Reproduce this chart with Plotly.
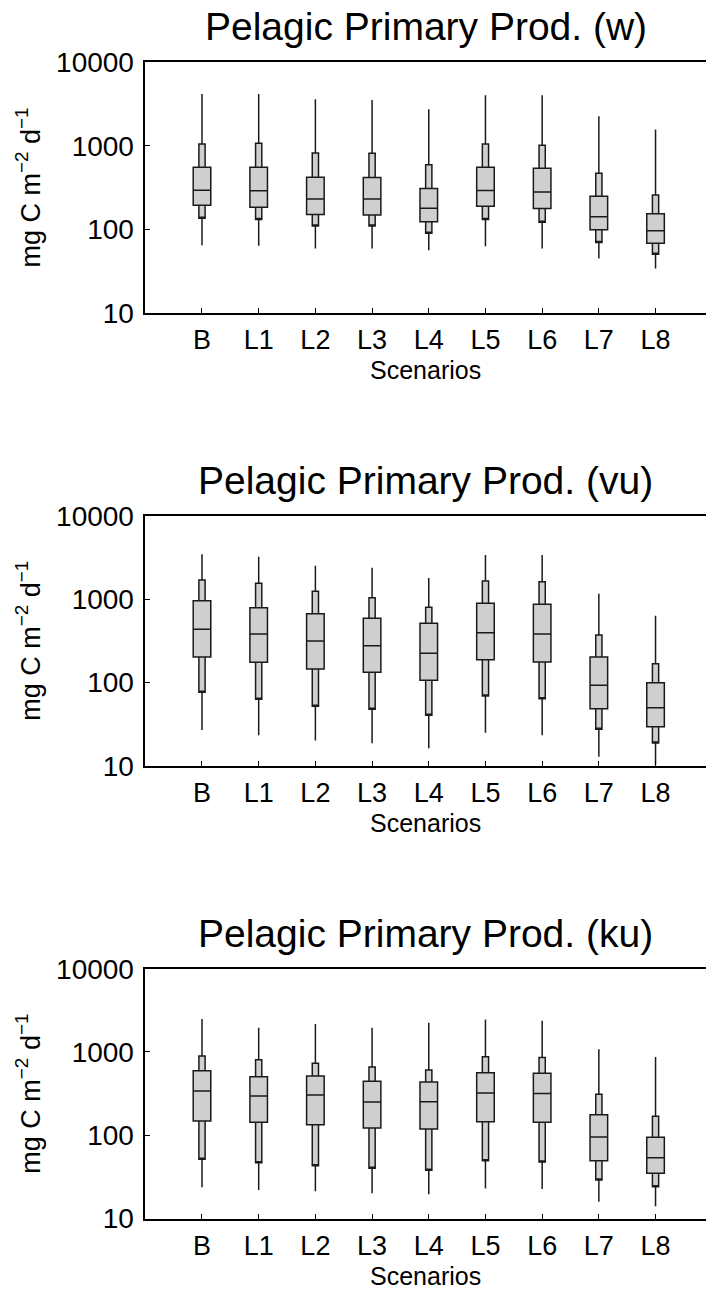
import plotly.graph_objects as go

# Scenario labels
scenarios = ["B", "L1", "L2", "L3", "L4", "L5", "L6", "L7", "L8"]
panel_titles = ["Pelagic Primary Prod. (w)", "Pelagic Primary Prod. (vu)", "Pelagic Primary Prod. (ku)"]

# Distribution summaries per scenario (mg C m-2 d-1): min, p10, p25, median, p75, p90, max
w_min = [64.5, 63.2, 58.9, 58.9, 56.1, 62.7, 58.9, 44.7, 33.9]
w_p10 = [135, 131, 109, 109, 89.8, 131, 121, 69.5, 50.3]
w_p25 = [194, 184, 150, 148, 123, 189, 177, 98.4, 68.1]
w_med = [294, 289, 231, 230, 179, 292, 279, 141, 95.7]
w_p75 = [551, 551, 421, 418, 308, 551, 536, 249, 153]
w_p90 = [1047, 1069, 817, 811, 592, 1047, 1011, 467, 258]
w_max = [4170, 4170, 3600, 3530, 2730, 4020, 4020, 2250, 1570]

vu_min = [26.8, 23.2, 20.0, 18.6, 16.2, 24.9, 23.2, 12.8, 10.3]
vu_p10 = [76, 62.6, 51.6, 47.5, 40.3, 68.6, 63.7, 27.3, 18.7]
vu_p25 = [201, 174, 145, 132, 106, 187, 176, 48.3, 29.4]
vu_med = [433, 380, 314, 275, 223, 394, 380, 92.2, 49.7]
vu_p75 = [955, 787, 667, 587, 512, 889, 865, 201, 99]
vu_p90 = [1692, 1545, 1238, 1038, 796, 1646, 1614, 370, 167]
vu_max = [3440, 3220, 2510, 2380, 1790, 3380, 3380, 1160, 631]

ku_min = [23.7, 22.0, 21.2, 20.1, 19.5, 23.0, 22.6, 15.9, 14.0]
ku_p10 = [51.4, 46.8, 43.0, 40.1, 37.9, 49.4, 47.7, 29.0, 24.1]
ku_p25 = [148, 143, 134, 122, 119, 145, 143, 49.4, 34.9]
ku_med = [339, 296, 304, 250, 253, 321, 318, 95.1, 53.7]
ku_p75 = [595, 504, 514, 444, 435, 563, 554, 176, 94.4]
ku_p90 = [893, 806, 730, 659, 607, 876, 861, 310, 169]
ku_max = [2480, 1950, 2160, 1950, 2240, 2460, 2370, 1075, 868]

panels = [
    (w_min, w_p10, w_p25, w_med, w_p75, w_p90, w_max),
    (vu_min, vu_p10, vu_p25, vu_med, vu_p75, vu_p90, vu_max),
    (ku_min, ku_p10, ku_p25, ku_med, ku_p75, ku_p90, ku_max),
]

W, H = 706, 1289
FONT = "Liberation Sans, Arial, sans-serif"
FILL = "#cfcfcf"
EDGE = "#1a1a1a"

# pixel extents of each axes box (top, bottom) and horizontal extent
ax_px = [(62.3, 312.7), (515.7, 765.7), (968.7, 1218.5)]
x_left = 145.3

fig = go.Figure()

for i, (mn, p10, p25, med, p75, p90, mx) in enumerate(panels):
    xa = "x" if i == 0 else f"x{i+1}"
    ya = "y" if i == 0 else f"y{i+1}"
    # outer band: 10-90 % range with whiskers to the extremes
    fig.add_trace(go.Box(
        x=scenarios, q1=p10, median=p10, q3=p90, lowerfence=mn, upperfence=mx,
        width=0.11, whiskerwidth=0, fillcolor=FILL,
        line=dict(color=EDGE, width=1.5), boxpoints=False,
        xaxis=xa, yaxis=ya, showlegend=False, hoverinfo="skip",
    ))
    # inner box: interquartile range with median
    fig.add_trace(go.Box(
        x=scenarios, q1=p25, median=med, q3=p75, lowerfence=p25, upperfence=p75,
        width=0.31, whiskerwidth=0, fillcolor=FILL,
        line=dict(color=EDGE, width=1.5), boxpoints=False,
        xaxis=xa, yaxis=ya, showlegend=False, hoverinfo="skip",
    ))

layout = dict(
    width=W, height=H,
    margin=dict(l=0, r=0, t=0, b=0, autoexpand=False),
    paper_bgcolor="white", plot_bgcolor="white",
    font=dict(family=FONT, color="black", size=27),
    boxmode="overlay",
    showlegend=False,
)

annotations = []
x_mid = (x_left + W) / 2 / W
for i, (top, bot) in enumerate(ax_px):
    sfx = "" if i == 0 else str(i + 1)
    dom_y = [1 - bot / H, 1 - top / H]
    layout["xaxis" + sfx] = dict(
        domain=[x_left / W, 1.0], anchor="y" + sfx, automargin=False,
        type="category", categoryorder="array", categoryarray=scenarios,
        range=[-1, 8.89],
        showline=True, linecolor="black", linewidth=1.5, mirror=True,
        ticks="inside", ticklen=5, tickwidth=1, tickcolor="black",
        showgrid=False, zeroline=False,
        tickfont=dict(size=27), ticklabelstandoff=2,
    )
    layout["yaxis" + sfx] = dict(
        domain=dom_y, anchor="x" + sfx, automargin=False,
        type="log", range=[1, 4],
        tickvals=[10, 100, 1000, 10000], ticktext=["10", "100", "1000", "10000"],
        showline=True, linecolor="black", linewidth=1.5,
        ticks="inside", ticklen=5, tickwidth=1, tickcolor="black",
        showgrid=False, zeroline=False,
        tickfont=dict(size=28), ticklabelstandoff=4,
        title=dict(text="mg C m<sup>\u22122</sup> d<sup>\u22121</sup>", font=dict(size=27), standoff=8),
    )
    # panel title above the axes box
    annotations.append(dict(
        text=panel_titles[i], xref="paper", yref="paper",
        x=x_mid, y=1 - (top - 12) / H,
        xanchor="center", yanchor="bottom", showarrow=False,
        font=dict(size=39, family=FONT, color="black"),
    ))
    # x-axis label below the tick labels
    annotations.append(dict(
        text="Scenarios", xref="paper", yref="paper",
        x=x_mid, y=1 - (bot + 57) / H,
        xanchor="center", yanchor="middle", showarrow=False,
        font=dict(size=25, family=FONT, color="black"),
    ))

layout["annotations"] = annotations
fig.update_layout(**layout)

fig.write_html("out.html")
